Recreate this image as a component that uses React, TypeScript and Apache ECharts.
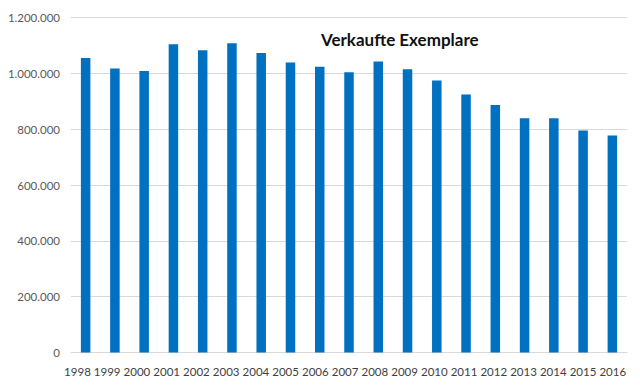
import React, { useEffect, useRef } from "react";
import * as echarts from "echarts";

const years = ["1998","1999","2000","2001","2002","2003","2004","2005","2006","2007","2008","2009","2010","2011","2012","2013","2014","2015","2016"];
const sold = [1055000,1017000,1008000,1104000,1083000,1108000,1073000,1039000,1024000,1004000,1042000,1015000,974000,924000,887000,839000,839000,795000,777000];
const chartTitle = "Verkaufte Exemplare";
const yMax = 1200000;
const yStep = 200000;

const fmt = (v: number) => v.toLocaleString("de-DE");

export default function App() {
  const ref = useRef<HTMLDivElement>(null);
  useEffect(() => {
    if (!ref.current) return;
    const chart = echarts.init(ref.current, null, { renderer: "svg" });
    const font = "Lato, 'Liberation Sans', sans-serif";
    chart.setOption({
      animation: false,
      backgroundColor: "#ffffff",
      title: {
        text: chartTitle,
        left: 316,
        top: 26,
        textStyle: { fontFamily: font, fontWeight: "bold", fontSize: 17, color: "#111111" },
      },
      grid: [
        { left: 71, right: 13, top: 17.5, bottom: 33.5 },
        { left: 62.6, right: 12.4, top: 17.5, bottom: 33.5 },
      ],
      xAxis: [
        {
          type: "category",
          data: years,
          gridIndex: 0,
          axisLine: { lineStyle: { color: "#d9d9d9", width: 1 } },
          axisTick: { show: false },
          axisLabel: { show: false },
        },
        {
          type: "category",
          data: years,
          gridIndex: 1,
          axisLine: { show: false },
          axisTick: { show: false },
          axisLabel: { interval: 0, color: "#404040", fontFamily: font, fontSize: 11.5, margin: 13 },
        },
      ],
      yAxis: [
        {
          type: "value",
          gridIndex: 0,
          min: 0,
          max: yMax,
          interval: yStep,
          axisLine: { show: false },
          axisTick: { show: false },
          splitLine: { lineStyle: { color: "#d9d9d9", width: 1 } },
          axisLabel: { color: "#595959", fontFamily: font, fontSize: 11.5, margin: 11, formatter: (v: number) => fmt(v) },
        },
        { type: "value", gridIndex: 1, min: 0, max: yMax, show: false },
      ],
      series: [
        {
          type: "bar",
          xAxisIndex: 0,
          yAxisIndex: 0,
          data: sold,
          barWidth: 9.5,
          itemStyle: { color: "#0070C0" },
        },
      ],
    });
    return () => chart.dispose();
  }, []);
  return <div ref={ref} style={{ width: 640, height: 386, position: "absolute", left: 0, top: 0 }} />;
}
